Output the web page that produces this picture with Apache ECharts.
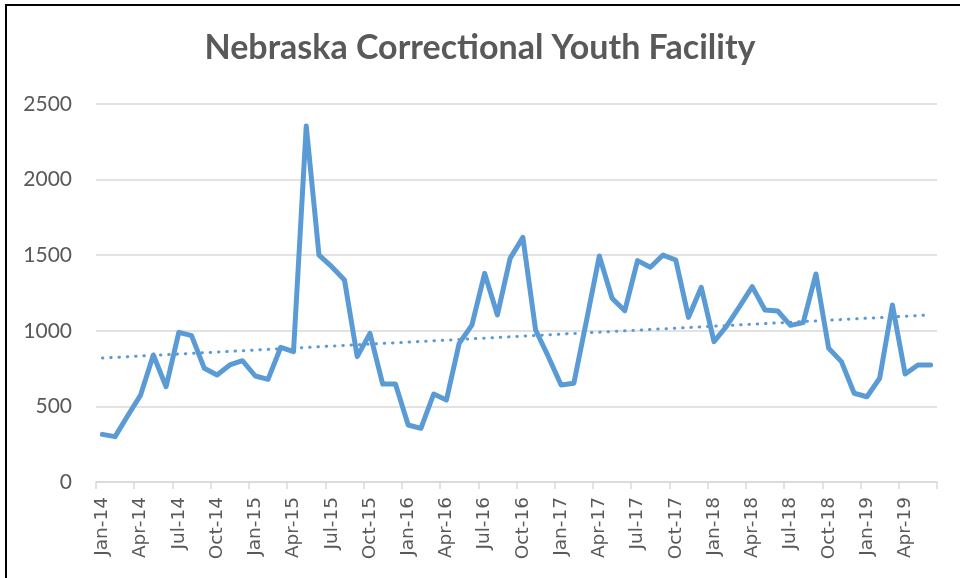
<!DOCTYPE html>
<html>
<head>
<meta charset="utf-8">
<script src="https://cdn.jsdelivr.net/npm/echarts@6/dist/echarts.min.js"></script>
<style>
  html, body { margin: 0; padding: 0; background: #fff; }
  #chart { width: 960px; height: 578px; }
</style>
</head>
<body>
<div id="chart"></div>
<script>
// monthly values, Jan-14 .. Jun-19
const monthNames = ['Jan', 'Feb', 'Mar', 'Apr', 'May', 'Jun', 'Jul', 'Aug', 'Sep', 'Oct', 'Nov', 'Dec']
const years = ['14', '15', '16', '17', '18', '19']
const values = [
  315, 300, 440, 575, 840, 630, 990, 968, 752, 708, 774, 802,
  701, 679, 891, 862, 2355, 1501, 1424, 1336, 829, 983, 648, 648,
  377, 355, 582, 542, 917, 1038, 1380, 1105, 1479, 1618, 1005, 829,
  642, 653, 1070, 1495, 1215, 1133, 1464, 1420, 1501, 1468, 1089, 1288,
  928, 1032, 1160, 1292, 1138, 1131, 1036, 1054, 1376, 884, 796, 587,
  564, 686, 1171, 714, 774, 774
]
// dotted trend line, read at its two ends
const trendEnds = [820, 1105]
const yTicks = [0, 500, 1000, 1500, 2000, 2500]

const categories = []
years.forEach(y => monthNames.forEach(m => categories.push(m + '-' + y)))
categories.length = values.length

const trendData = values.map((v, i) => i === 0 ? trendEnds[0] : (i === values.length - 1 ? trendEnds[1] : null))

const chart = echarts.init(document.getElementById('chart'))
const option = {
  animation: false,
  backgroundColor: '#fff',
  title: {
    text: 'Nebraska Correctional Youth Facility',
    left: 'center',
    top: 26,
    textStyle: {
      fontFamily: 'Lato',
      fontWeight: 'bold',
      fontSize: 34,
      color: '#595959'
    }
  },
  graphic: [{
    type: 'rect',
    shape: {x: 6, y: 5, width: 1200, height: 1200},
    style: {fill: 'none', stroke: '#000', lineWidth: 2},
    silent: true
  }],
  grid: {
    left: 96,
    right: 23,
    top: 104,
    bottom: 96
  },
  xAxis: {
    type: 'category',
    boundaryGap: true,
    data: categories,
    axisLine: {lineStyle: {color: '#d9d9d9', width: 1.5}},
    axisTick: {show: true, interval: 2, length: 7, lineStyle: {color: '#d9d9d9', width: 1.5}},
    axisLabel: {
      interval: 2,
      rotate: 90,
      margin: 15,
      color: '#595959',
      fontFamily: 'DejaVu Sans',
      fontSize: 18.5
    }
  },
  yAxis: {
    type: 'value',
    min: yTicks[0],
    max: yTicks[yTicks.length - 1],
    interval: yTicks[1] - yTicks[0],
    axisLine: {show: false},
    axisTick: {show: false},
    splitLine: {lineStyle: {color: '#d9d9d9', width: 1.5}},
    axisLabel: {
      margin: 24,
      color: '#595959',
      fontFamily: 'Lato',
      fontSize: 21,
      formatter: v => String(v)
    }
  },
  series: [{
    name: 'Youth Facility',
    type: 'line',
    data: values,
    symbol: 'none',
    lineStyle: {color: '#5b9bd5', width: 5, join: 'round', cap: 'round'},
    z: 3
  }, {
    name: 'Trend',
    type: 'line',
    data: trendData,
    connectNulls: true,
    symbol: 'none',
    lineStyle: {color: '#5b9bd5', width: 3, type: [0.5, 7.8], cap: 'round'},
    z: 2
  }]
}
chart.setOption(option)
</script>
</body>
</html>
